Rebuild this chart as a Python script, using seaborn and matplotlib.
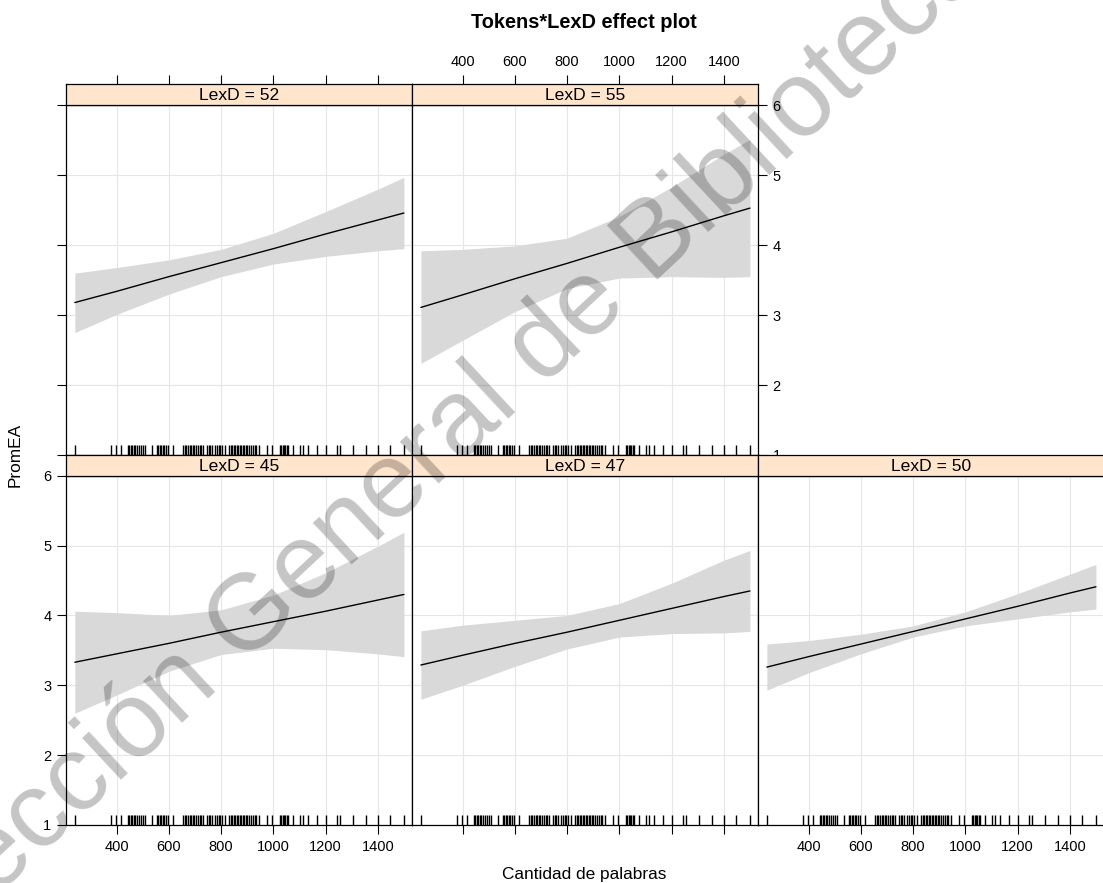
import numpy as np
import pandas as pd
import matplotlib
matplotlib.use("Agg")
import matplotlib.pyplot as plt
import seaborn as sns

# ---------------- data ----------------
tokens = [242, 380, 396, 415, 443, 449, 455, 460, 466, 472, 478, 485, 492, 500, 507,
          536, 553, 559, 565, 570, 576, 582, 589, 596, 615, 654, 660, 667, 672, 680,
          686, 692, 698, 705, 712, 718, 724, 730, 747, 752, 758, 767, 775, 783, 790,
          797, 805, 813, 832, 838, 843, 849, 855, 860, 866, 871, 877, 883, 889, 895,
          901, 908, 915, 922, 928, 934, 947, 977, 994, 1026, 1031, 1036, 1041, 1046,
          1051, 1056, 1077, 1103, 1113, 1132, 1168, 1202, 1244, 1255, 1304, 1353,
          1400, 1448, 1502]

x_grid = [240, 400, 600, 800, 1000, 1200, 1400, 1500]

panel_labels = ["LexD = 52", "LexD = 55", "LexD = 45", "LexD = 47", "LexD = 50"]

fit_52 = [3.18, 3.34, 3.55, 3.75, 3.95, 4.16, 4.36, 4.46]
lower_52 = [2.75, 3.01, 3.30, 3.55, 3.73, 3.84, 3.92, 3.95]
upper_52 = [3.60, 3.68, 3.79, 3.94, 4.17, 4.48, 4.80, 4.97]

fit_55 = [3.11, 3.29, 3.52, 3.74, 3.97, 4.19, 4.42, 4.53]
lower_55 = [2.31, 2.64, 3.05, 3.38, 3.53, 3.55, 3.54, 3.55]
upper_55 = [3.92, 3.94, 3.99, 4.10, 4.41, 4.83, 5.30, 5.51]

fit_45 = [3.33, 3.45, 3.60, 3.76, 3.91, 4.06, 4.22, 4.30]
lower_45 = [2.60, 2.86, 3.20, 3.44, 3.53, 3.51, 3.45, 3.41]
upper_45 = [4.06, 4.04, 4.00, 4.08, 4.29, 4.61, 4.99, 5.19]

fit_47 = [3.29, 3.43, 3.60, 3.76, 3.93, 4.10, 4.27, 4.35]
lower_47 = [2.80, 3.00, 3.27, 3.52, 3.69, 3.74, 3.75, 3.77]
upper_47 = [3.78, 3.86, 3.93, 4.00, 4.17, 4.46, 4.79, 4.93]

fit_50 = [3.26, 3.41, 3.59, 3.77, 3.95, 4.13, 4.32, 4.41]
lower_50 = [2.93, 3.18, 3.45, 3.69, 3.85, 3.95, 4.05, 4.09]
upper_50 = [3.59, 3.64, 3.73, 3.85, 4.05, 4.31, 4.59, 4.73]

x_ticks = [400, 600, 800, 1000, 1200, 1400]
y_ticks = [1, 2, 3, 4, 5, 6]

title = "Tokens*LexD effect plot"
x_label = "Cantidad de palabras"
y_label = "PromEA"
watermark = "Colección General de Biblioteca"

# ---------------- style ----------------
sns.set_theme(style="white")
plt.rcParams["font.family"] = ["Liberation Sans", "DejaVu Sans"]

W, H = 1103, 883
fig = plt.figure(figsize=(W / 100, H / 100), dpi=100)


def box(x0, y0, x1, y1):
    return [x0 / W, 1 - y1 / H, (x1 - x0) / W, (y1 - y0) / H]


cols = [66, 412, 758]
colw = 346
rows = [(84, 105.3, 455.0), (455.0, 475.7, 825.0)]
XLIM = (206, 1531)
YLIM = (1, 6)

series = {
    "LexD = 52": (fit_52, lower_52, upper_52, 0, 0),
    "LexD = 55": (fit_55, lower_55, upper_55, 0, 1),
    "LexD = 45": (fit_45, lower_45, upper_45, 1, 0),
    "LexD = 47": (fit_47, lower_47, upper_47, 1, 1),
    "LexD = 50": (fit_50, lower_50, upper_50, 1, 2),
}

tick_kw = dict(direction="out", length=6.5, width=0.8, colors="black",
               labelsize=10.5, pad=4)

for lab in panel_labels:
    fit, lo, up, r, c = series[lab]
    s_top, p_top, p_bot = rows[r]
    x0 = cols[c]
    ax = fig.add_axes(box(x0, p_top, x0 + colw, p_bot))
    ax.set_xlim(*XLIM)
    ax.set_ylim(*YLIM)
    ax.set_xticks(x_ticks)
    ax.set_yticks(y_ticks)
    ax.grid(True, color="#e6e6e6", lw=0.8)
    ax.set_axisbelow(True)
    ax.fill_between(x_grid, lo, up, color="#d9d9d9", lw=0, zorder=1)
    df = pd.DataFrame({"Tokens": x_grid, "PromEA": fit})
    sns.lineplot(data=df, x="Tokens", y="PromEA", color="black", lw=1.0,
                 ax=ax, zorder=3)
    sns.rugplot(x=tokens, ax=ax, height=0.029, color="black", lw=0.8,
                expand_margins=False)
    ax.set_xlim(*XLIM)
    ax.set_ylim(*YLIM)
    ax.set_xlabel("")
    ax.set_ylabel("")
    for sp in ax.spines.values():
        sp.set_color("black")
        sp.set_linewidth(0.9)
    ax.tick_params(axis="both", **tick_kw)
    left = (c == 0)
    right = (r == 0 and c == 1) or (r == 1 and c == 2)
    bottom = (r == 1)
    ax.tick_params(left=left, labelleft=(left and r == 1),
                   right=right, labelright=(r == 0 and c == 1),
                   bottom=bottom, labelbottom=(bottom and c != 1),
                   top=False, labeltop=False)

    # strip
    sax = fig.add_axes(box(x0, s_top, x0 + colw, p_top))
    sax.set_facecolor("#ffe5cc")
    sax.set_xlim(*XLIM)
    sax.set_ylim(0, 1)
    sax.set_yticks([])
    sax.set_xticks(x_ticks)
    sax.tick_params(axis="x", **tick_kw)
    sax.tick_params(axis="x", bottom=False, labelbottom=False,
                    top=(r == 0), labeltop=(r == 0 and c == 1))
    for sp in sax.spines.values():
        sp.set_color("black")
        sp.set_linewidth(0.9)
    sax.text(0.5, 0.45, lab, transform=sax.transAxes, ha="center",
             va="center", fontsize=12.6, color="black")

fig.text(584 / W, 1 - 22 / H, title, ha="center", va="center",
         fontsize=14.4, fontweight="bold", color="black")
fig.text(584 / W, 1 - 874 / H, x_label, ha="center", va="center",
         fontsize=12.4, color="black")
fig.text(15 / W, 1 - 455 / H, y_label, ha="center", va="center",
         rotation=90, fontsize=12.4, color="black")

# watermark (partly cut off at the picture edges, as in the reference)
fig.text(415 / W, 1 - 468 / H, watermark, ha="center", va="center",
         rotation=43, rotation_mode="anchor", fontsize=77, color="black",
         alpha=0.23, zorder=10)

fig.savefig("out.png", dpi=100)
